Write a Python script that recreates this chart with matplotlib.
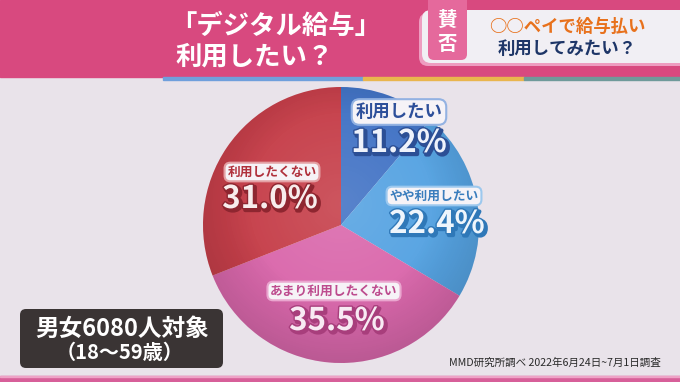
import numpy as np
import matplotlib
matplotlib.use("Agg")
import matplotlib.pyplot as plt
import matplotlib.patheffects as pe
from matplotlib.patches import Rectangle, FancyBboxPatch, Circle

plt.rcParams['font.family'] = ['Noto Sans CJK JP', 'DejaVu Sans']

# data
categories = ["利用したい", "やや利用したい", "あまり利用したくない", "利用したくない"]
shares = [11.2, 22.4, 35.5, 31.0]
title_lines = ["「デジタル給与」", "利用したい？"]
topic_lines = ["○○ペイで給与払い", "利用してみたい？"]
sample_lines = ["男女6080人対象", "（18～59歳）"]
source = "MMD研究所調べ 2022年6月24日~7月1日調査"

# styles (pixel layout, y grows downward)
W, H = 680, 382
BG = "#e9e3ea"
PINK = "#d8497f"
slice_colors = ["#4273c5", "#56a3e2", "#da68ac", "#c63f4a"]
label_colors = ["#2d4f9a", "#3a7dbd", "#bd4b8e", "#b0303b"]
edge_colors = ["#93b2e2", "#9cc8ee", "#eaa6cf", "#e4a0a4"]
pct_dark = ["#2c4f95", "#2f78b8", "#a83e7c", "#8e2630"]
pct_fill = ["#eef2fb", "#eef5fc", "#f8eaf3", "#f8ecec"]
label_pos = [(399, 112), (434, 196), (334, 291), (272, 172)]
label_size = [12.5, 9.2, 9.2, 9.2]
pct_pos = [(399, 143), (437, 224), (337, 321), (270, 199)]
CX, CY, R = 341, 225, 138

fig = plt.figure(figsize=(6.8, 3.82), dpi=100)
fig.patch.set_facecolor(BG)
ax = fig.add_axes([0, 0, 1, 1])
ax.set_facecolor(BG)

# pie (y axis inverted below, so start at -90 and go counterclockwise in data)
wedges, _ = ax.pie(shares, colors=slice_colors, startangle=-90, counterclock=True,
                   center=(CX, CY), radius=R, wedgeprops=dict(linewidth=0))
for w in wedges:
    w.set_zorder(2)

# soft shading on the pie: a light glow in the middle, darker rim
n = 300
gx, gy = np.meshgrid(np.linspace(-1, 1, n), np.linspace(-1, 1, n))
rr = np.sqrt(gx ** 2 + (gy + 0.15) ** 2)
glow = np.ones((n, n, 4))
glow[..., 3] = np.clip(0.12 * (1 - rr / 0.9), 0, 1)
rim = np.zeros((n, n, 4))
rim[..., 3] = np.clip(0.13 * (rr - 0.65) / 0.45, 0, 1)
clip = Circle((CX, CY), R, transform=ax.transData)
for layer in (glow, rim):
    im = ax.imshow(layer, extent=(CX - R, CX + R, CY + R, CY - R), zorder=3,
                   interpolation="bilinear")
    im.set_clip_path(clip)

ax.set_xlim(0, W)
ax.set_ylim(H, 0)
ax.set_aspect("auto")
ax.axis("off")

# header
ax.add_patch(Rectangle((0, 0), W, 77, color=PINK, zorder=5))
for x0, x1, c in [(163, 363, "#6f9fdc"), (363, 524, "#e9b54d"), (524, 680, "#6f9a9a")]:
    ax.add_patch(Rectangle((x0, 77), x1 - x0, 3, color=c, zorder=5))
ax.text(170, 26, title_lines[0], color="white", fontsize=19, fontweight="bold",
        ha="left", va="center", zorder=6)
ax.text(175, 57, title_lines[1], color="white", fontsize=19, fontweight="bold",
        ha="left", va="center", zorder=6)

ax.add_patch(FancyBboxPatch((419, 13), 280, 53, boxstyle="round,pad=0,rounding_size=9",
                            fc="#ee9cc0", ec="none", zorder=5))
ax.add_patch(FancyBboxPatch((422, 10), 280, 53, boxstyle="round,pad=0,rounding_size=9",
                            fc="#f1eff4", ec="none", zorder=6))
ax.add_patch(FancyBboxPatch((428, -8), 39, 68, boxstyle="round,pad=0,rounding_size=6",
                            fc="#e5699c", ec="none", zorder=7))
ax.text(447.5, 20, "賛", color="white", fontsize=14, fontweight="bold",
        ha="center", va="center", zorder=8)
ax.text(447.5, 44, "否", color="white", fontsize=14, fontweight="bold",
        ha="center", va="center", zorder=8)
ax.text(567, 27, topic_lines[0], color="#e8711c", fontsize=12.5, fontweight="bold",
        ha="center", va="center", zorder=8)
ax.text(567, 49, topic_lines[1], color="#1d3567", fontsize=12.5, fontweight="bold",
        ha="center", va="center", zorder=8)

# bottom band
ax.add_patch(Rectangle((0, 376), W, 7, color="#d75f99", zorder=5))
ax.add_patch(Rectangle((0, 376), W, 1.2, color="#eea2c6", zorder=5))

# slice labels
for i, cat in enumerate(categories):
    lx, ly = label_pos[i]
    ax.text(lx, ly, cat, color=label_colors[i], fontsize=label_size[i],
            fontweight="bold", ha="center", va="center", zorder=9,
            bbox=dict(boxstyle="round,pad=0.22,rounding_size=0.45", fc="#f6f3f7",
                      ec=edge_colors[i], lw=1.5))
    px, py = pct_pos[i]
    ax.text(px, py, f"{shares[i]:.1f}%", color=pct_fill[i], fontsize=22.5,
            fontweight="bold", ha="center", va="center", zorder=9,
            path_effects=[pe.Stroke(linewidth=3, foreground=pct_dark[i], offset=(1.5, -1.5)),
                          pe.Stroke(linewidth=2, foreground=pct_dark[i]),
                          pe.Normal()])

# sample box
ax.add_patch(FancyBboxPatch((20, 309), 203, 59, boxstyle="round,pad=0,rounding_size=6",
                            fc="#3a3434", ec="none", zorder=7))
ax.text(122, 329, sample_lines[0], color="white", fontsize=17, fontweight="bold",
        ha="center", va="center", zorder=8)
ax.text(120, 352, sample_lines[1], color="white", fontsize=14.5, fontweight="bold",
        ha="center", va="center", zorder=8)

# source
ax.text(661, 363, source, color="#2a2a2a", fontsize=7.6, ha="right", va="center", zorder=8)

fig.savefig("out.png", dpi=100, facecolor=BG)
